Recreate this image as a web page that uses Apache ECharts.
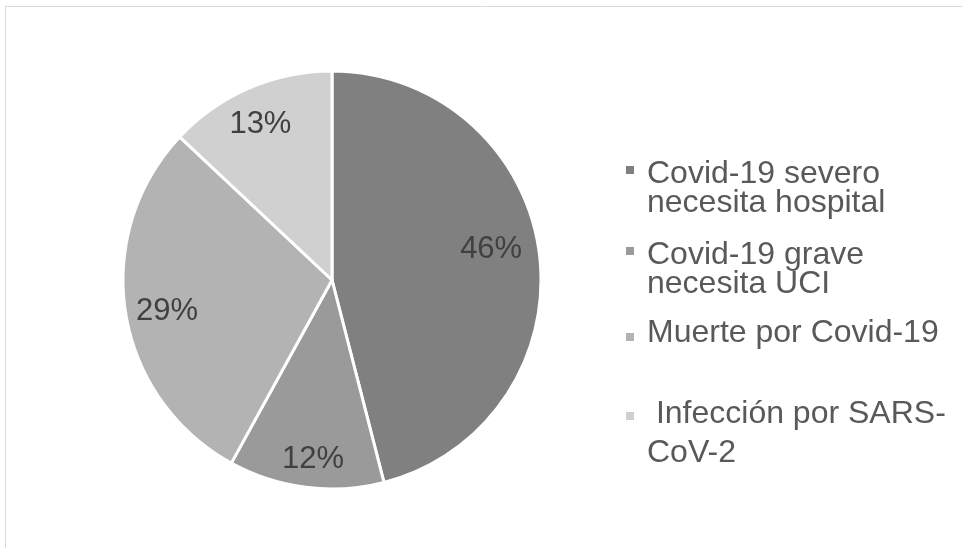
<!DOCTYPE html>
<html>
<head>
<meta charset="utf-8">
<script src="https://cdn.jsdelivr.net/npm/echarts@6/dist/echarts.min.js"></script>
<style>
html,body{margin:0;padding:0;background:#fff;}
#chart{width:962px;height:548px;}
</style>
</head>
<body>
<div id="chart"></div>
<script>
// Data
const categories = [
  'Covid-19 severo\nnecesita hospital',
  'Covid-19 grave\nnecesita UCI',
  'Muerte por Covid-19',
  '\u00a0Infección por SARS-\nCoV-2'
];
const values = [46, 12, 29, 13];

// Styles
const colors = ['#808080', '#9a9a9a', '#b3b3b3', '#d0d0d0'];
const labelRadiusFactors = [0.76, 0.855, 0.79, 0.80];
const labelAngleShiftDeg = [-3.3, -1.2, -2, -1.5];

const chart = echarts.init(document.getElementById('chart'), null, {renderer: 'canvas'});

const R = 209;
const total = values.reduce((a, b) => a + b, 0);
let cum = 0;
const pieData = categories.map((name, i) => {
  const mid = (cum + values[i] / 2) / total * 2 * Math.PI;
  cum += values[i];
  const ang = mid + labelAngleShiftDeg[i] * Math.PI / 180;
  const rr = labelRadiusFactors[i] * R;
  const defR = 0.5 * R;
  const ox = rr * Math.sin(ang) - defR * Math.sin(mid);
  const oy = -rr * Math.cos(ang) + defR * Math.cos(mid) - 1;
  return {
    name: name,
    value: values[i],
    itemStyle: {color: colors[i]},
    label: {offset: [ox, oy]}
  };
});

const font = 'Liberation Sans, Arial, sans-serif';
const legendBase = {
  left: 626,
  orient: 'vertical',
  padding: 0,
  icon: 'rect',
  itemWidth: 8,
  itemHeight: 8,
  selectedMode: false,
  itemStyle: {borderWidth: 0}
};
// pre: height of blank line before text, post: after, lh: line height
const legendDefs = [
  {idx: 0, top: 139, lh: 29, pre: 37, post: 0},
  {idx: 1, top: 220, lh: 29, pre: 37, post: 0},
  {idx: 2, top: 317, lh: 29, pre: 0, post: 8},
  {idx: 3, top: 375, lh: 39, pre: 35, post: 0}
];
const legends = legendDefs.map(d => Object.assign({}, legendBase, {
  top: d.top,
  data: [categories[d.idx]],
  formatter: name => {
    let lines = name.split('\n').map(l => '{t|' + l + '}');
    if (d.pre) lines.unshift('{s| }');
    if (d.post) lines.push('{p| }');
    return lines.join('\n');
  },
  textStyle: {
    fontFamily: font,
    fontSize: 32,
    color: '#595959',
    padding: [0, 0, 0, 8],
    rich: {
      t: {fontFamily: font, fontSize: 32, color: '#595959', lineHeight: d.lh},
      s: {fontSize: 4, lineHeight: d.pre || 1},
      p: {fontSize: 4, lineHeight: d.post || 1}
    }
  }
}));

chart.setOption({
  backgroundColor: '#ffffff',
  animation: false,
  graphic: [{
    type: 'rect',
    shape: {x: 5.5, y: 6.5, width: 1000, height: 600},
    style: {fill: 'none', stroke: '#d9d9d9', lineWidth: 1},
    silent: true
  }],
  legend: legends,
  series: [{
    type: 'pie',
    center: [332, 280],
    radius: R,
    startAngle: 90,
    clockwise: true,
    data: pieData,
    itemStyle: {borderColor: '#ffffff', borderWidth: 3},
    label: {
      show: true,
      position: 'inside',
      formatter: p => p.value + '%',
      fontFamily: font,
      fontSize: 31,
      color: '#404040'
    },
    labelLine: {show: false},
    emphasis: {disabled: true}
  }]
});
</script>
</body>
</html>
